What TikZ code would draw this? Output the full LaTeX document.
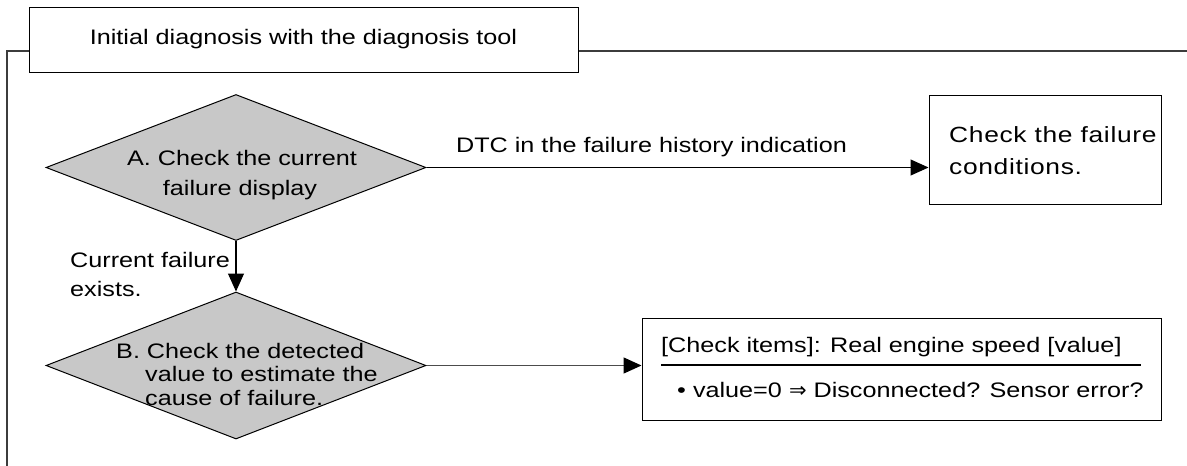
\documentclass[tikz,border=0pt]{standalone}
\usepackage{fontspec}
\setmainfont{Liberation Sans}[FakeStretch=1.2]
\newfontfamily\spacedfont{Liberation Sans}[FakeStretch=1.2,LetterSpace=3]
\newfontfamily\symfont{DejaVu Sans}
\usetikzlibrary{shapes.geometric,arrows.meta}
\definecolor{diafill}{RGB}{200,200,200}
\definecolor{framec}{RGB}{60,60,60}
\begin{document}
\begin{tikzpicture}[x=1pt,y=-1pt,
  txt/.style={font=\fontsize{21}{25}\selectfont, inner sep=0pt, text=black},
  bigtxt/.style={font=\spacedfont\fontsize{22}{25}\selectfont, inner sep=0pt, text=black},
  dia/.style={diamond, draw=black, line width=1pt, fill=diafill, minimum width=380pt, minimum height=146pt, inner sep=0pt},
  boxx/.style={rectangle, draw=black, line width=1pt, inner sep=0pt},
  frame/.style={draw=framec, line width=1.3pt},
  arr/.style={-{Triangle[length=18pt,width=16pt]}, line width=1.1pt, draw=black},
  arrg/.style={-{Triangle[length=18pt,width=16pt,color=black]}, line width=1.5pt, draw=black!70}]
\useasboundingbox (0,0) rectangle (1187,466);
\fill[white] (0,0) rectangle (1187,466);

% frame
\coordinate (fTL) at (7,51);
\coordinate (fBL) at (7,466);
\coordinate (fTR) at (1187,51);
\node[boxx, txt, minimum width=549pt, minimum height=65pt] (T) at (303.5,39.5) {Initial diagnosis with the diagnosis tool};
\draw[frame] (T.west |- fTL) -- (fTL) -- (fBL);
\draw[frame] (T.east |- fTR) -- (fTR);

% diamonds
\node[dia] (A) at (236,167.5) {};
\node[txt, anchor=base] (Aa) at (242,165) {A. Check the current};
\node[txt, anchor=base] (Ab) at (240,195) {failure display};

\node[dia, minimum height=147pt] (B) at (236,365.5) {};
\node[txt, anchor=base west] (Ba) at (116,358) {B. Check the detected};
\node[txt, anchor=base west] (Bb) at (145,381) {value to estimate the};
\node[txt, anchor=base west] (Bc) at (145,405) {cause of failure.};

% boxes
\node[boxx, minimum width=232pt, minimum height=109pt] (C1) at (1045,149.5) {};
\node[bigtxt, anchor=base west] (C1a) at (949,142) {Check the failure};
\node[bigtxt, anchor=base west] (C1b) at (949,174) {conditions.};

\node[boxx, minimum width=519pt, minimum height=102pt] (C2) at (901.5,369) {};
\node[txt, anchor=base west] (C2a) at (661,352) {[Check items]: Real engine speed [value]};
\coordinate (u1) at (661,365);
\coordinate (u2) at (1141,365);
\draw[line width=1.8pt, black] (u1) -- (u2);
\node[txt, anchor=base west] (C2b) at (677,397) {• value=0 {\symfont ⇒} Disconnected? Sensor error?};

% connectors
\draw[arr] (A.east) -- (A.east -| C1.west);
\node[txt, anchor=base] (L1) at (651.5,152) {DTC in the failure history indication};
\draw[arr] (A.south) -- (B.north);
\node[txt, anchor=base west] (L2a) at (70,267) {Current failure};
\node[txt, anchor=base west] (L2b) at (70,296) {exists.};
\draw[arrg] (B.east) -- (B.east -| C2.west);
\end{tikzpicture}
\end{document}
